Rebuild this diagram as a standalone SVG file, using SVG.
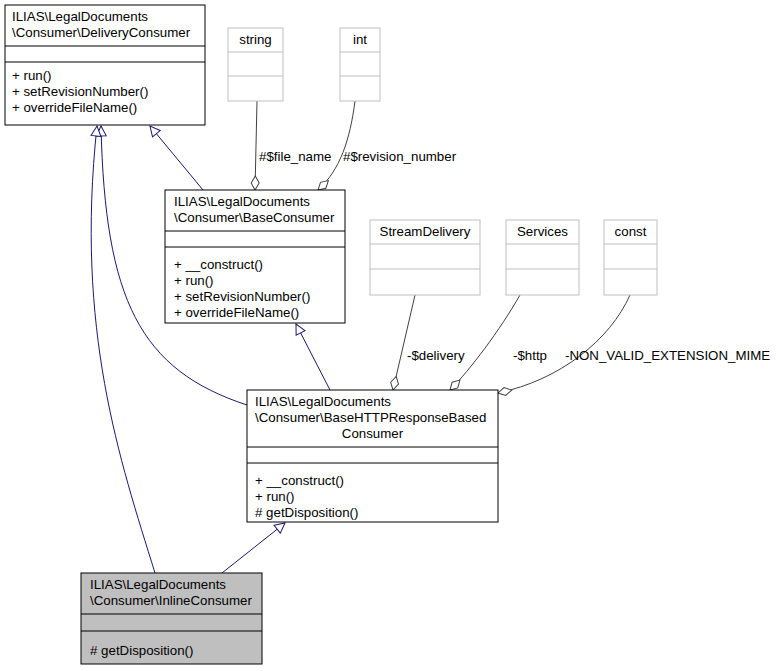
<svg xmlns="http://www.w3.org/2000/svg" width="778" height="671" viewBox="0 0 778 671">
<defs>
<marker id="tri" viewBox="0 0 12 12" refX="11" refY="6" markerWidth="12" markerHeight="12" markerUnits="userSpaceOnUse" orient="auto"><path d="M1,1 L11,6 L1,11 Z" fill="#fff" stroke="#191970"/></marker>
<marker id="dia" viewBox="0 0 16 10" refX="15" refY="5" markerWidth="16" markerHeight="10" markerUnits="userSpaceOnUse" orient="auto"><path d="M1,5 L8,1 L15,5 L8,9 Z" fill="#fff" stroke="#404040"/></marker>
</defs>
<style>
text{font-family:"Liberation Sans",Arial,sans-serif;font-size:13.3px;fill:#000}
.b{fill:#fff;stroke:#000}
.g{fill:#fff;stroke:#bfbfbf}
.gl{stroke:#bfbfbf}
.bl{stroke:#000}
.inh{fill:none;stroke:#191970;marker-end:url(#tri)}
.agg{fill:none;stroke:#404040;marker-end:url(#dia)}
</style>
<rect width="778" height="671" fill="#fff"/>
<g id="connectors">
<path class="inh" d="M203,190 L150,126"/>
<path class="inh" d="M330,390 L296,324"/>
<path class="inh" d="M247,405 C140,370 105,300 101,126"/>
<path class="inh" d="M155,573 C120,460 75,330 97,126"/>
<path class="inh" d="M222,573 L285,523"/>
<path class="agg" d="M257,101 L255,190"/>
<path class="agg" d="M355,101 C350,140 340,170 318,190"/>
<path class="agg" d="M415,295 L393,390"/>
<path class="agg" d="M520,295 C500,330 470,370 450,390"/>
<path class="agg" d="M630,295 C610,340 560,380 498,393"/>
<text x="259" y="161">#$file_name</text>
<text x="343" y="161">#$revision_number</text>
<text x="407" y="360">-$delivery</text>
<text x="513" y="360">-$http</text>
<text x="565" y="360">-NON_VALID_EXTENSION_MIME</text>
</g>
<g id="DeliveryConsumer">
<rect class="b" x="5" y="5" width="200" height="120"/>
<line class="bl" x1="5" y1="46" x2="205" y2="46"/><line class="bl" x1="5" y1="62" x2="205" y2="62"/>
<text x="12" y="21">ILIAS\LegalDocuments</text><text x="12" y="37">\Consumer\DeliveryConsumer</text>
<text x="12" y="80">+ run()</text><text x="12" y="96">+ setRevisionNumber()</text><text x="12" y="112">+ overrideFileName()</text>
</g>
<g id="string">
<rect class="g" x="228" y="28" width="55" height="73"/>
<line class="gl" x1="228" y1="52" x2="283" y2="52"/><line class="gl" x1="228" y1="76" x2="283" y2="76"/>
<text x="255.5" y="44" text-anchor="middle">string</text>
</g>
<g id="int">
<rect class="g" x="340" y="28" width="40" height="73"/>
<line class="gl" x1="340" y1="52" x2="380" y2="52"/><line class="gl" x1="340" y1="76" x2="380" y2="76"/>
<text x="360" y="44" text-anchor="middle">int</text>
</g>
<g id="BaseConsumer">
<rect class="b" x="165" y="190" width="180" height="133"/>
<line class="bl" x1="165" y1="231" x2="345" y2="231"/><line class="bl" x1="165" y1="247" x2="345" y2="247"/>
<text x="174" y="206">ILIAS\LegalDocuments</text><text x="174" y="222">\Consumer\BaseConsumer</text>
<text x="174" y="269">+ __construct()</text><text x="174" y="285">+ run()</text><text x="174" y="301">+ setRevisionNumber()</text><text x="174" y="317">+ overrideFileName()</text>
</g>
<g id="StreamDelivery">
<rect class="g" x="370" y="220" width="110" height="75"/>
<line class="gl" x1="370" y1="244" x2="480" y2="244"/><line class="gl" x1="370" y1="269" x2="480" y2="269"/>
<text x="425" y="236" text-anchor="middle">StreamDelivery</text>
</g>
<g id="Services">
<rect class="g" x="506" y="220" width="73" height="75"/>
<line class="gl" x1="506" y1="244" x2="579" y2="244"/><line class="gl" x1="506" y1="269" x2="579" y2="269"/>
<text x="542.5" y="236" text-anchor="middle">Services</text>
</g>
<g id="const">
<rect class="g" x="604" y="220" width="53" height="75"/>
<line class="gl" x1="604" y1="244" x2="657" y2="244"/><line class="gl" x1="604" y1="269" x2="657" y2="269"/>
<text x="630.5" y="236" text-anchor="middle">const</text>
</g>
<g id="BaseHTTPResponseBasedConsumer">
<rect class="b" x="247" y="390" width="251" height="132"/>
<line class="bl" x1="247" y1="447" x2="498" y2="447"/><line class="bl" x1="247" y1="463" x2="498" y2="463"/>
<text x="255" y="406">ILIAS\LegalDocuments</text><text x="255" y="422">\Consumer\BaseHTTPResponseBased</text><text x="372.5" y="438" text-anchor="middle">Consumer</text>
<text x="255" y="485">+ __construct()</text><text x="255" y="501">+ run()</text><text x="255" y="517"># getDisposition()</text>
</g>
<g id="InlineConsumer">
<rect x="81" y="573" width="181" height="91" fill="#bfbfbf" stroke="#000"/>
<line class="bl" x1="81" y1="614" x2="262" y2="614"/><line class="bl" x1="81" y1="631" x2="262" y2="631"/>
<text x="90" y="589">ILIAS\LegalDocuments</text><text x="90" y="605">\Consumer\InlineConsumer</text>
<text x="90" y="655"># getDisposition()</text>
</g>
</svg>
